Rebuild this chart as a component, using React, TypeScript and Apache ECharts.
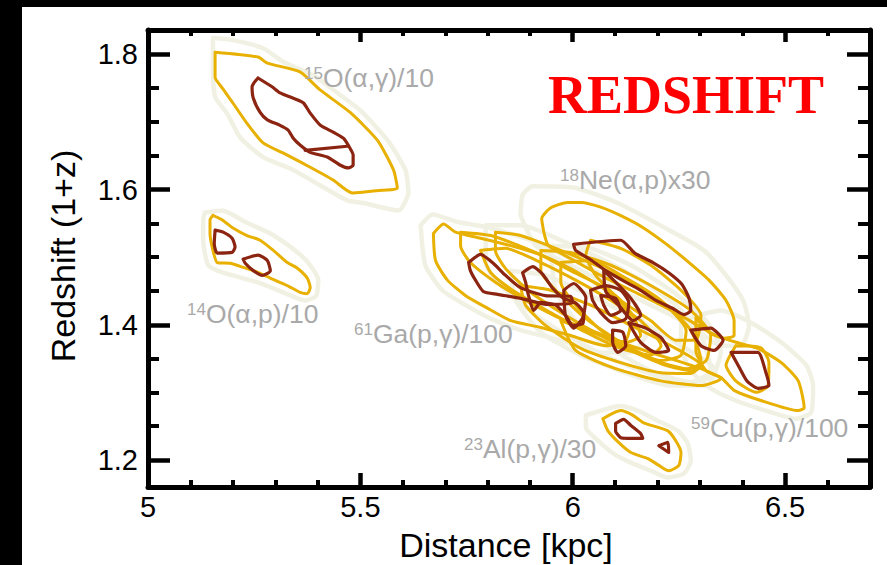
import React, { useEffect, useRef } from 'react';
import * as echarts from 'echarts';

// ---------- axis ticks ----------
const xTickLabels = [5, 5.5, 6, 6.5];
const yTickLabels = [1.2, 1.4, 1.6, 1.8];

// ---------- annotations ----------
const annotationSup = ['15', '14', '61', '18', '23', '59'];
const annotationBody = ['O(α,γ)/10', 'O(α,p)/10', 'Ga(p,γ)/100', 'Ne(α,p)x30', 'Al(p,γ)/30', 'Cu(p,γ)/100'];

// ---------- contour data (distance kpc, redshift 1+z) ----------
const o15Pale = [[5.153,1.824],[5.200,1.821],[5.271,1.809],[5.318,1.789],[5.389,1.769],[5.446,1.743],[5.500,1.717],[5.564,1.673],[5.606,1.629],[5.613,1.596],[5.590,1.569],[5.507,1.580],[5.469,1.584],[5.406,1.606],[5.342,1.629],[5.271,1.648],[5.217,1.677],[5.186,1.713],[5.158,1.737],[5.153,1.781]];
const o15Gold = [[5.158,1.803],[5.259,1.796],[5.281,1.787],[5.358,1.774],[5.406,1.747],[5.476,1.714],[5.540,1.673],[5.578,1.629],[5.587,1.602],[5.554,1.599],[5.481,1.595],[5.436,1.614],[5.382,1.633],[5.328,1.651],[5.271,1.669],[5.233,1.698],[5.200,1.728],[5.175,1.750],[5.158,1.766]];
const o15Red = [[5.259,1.765],[5.292,1.752],[5.311,1.743],[5.342,1.735],[5.366,1.728],[5.382,1.713],[5.406,1.695],[5.436,1.685],[5.460,1.676],[5.472,1.665],[5.483,1.651],[5.483,1.636],[5.472,1.632],[5.453,1.636],[5.422,1.648],[5.382,1.655],[5.358,1.666],[5.342,1.676],[5.330,1.688],[5.311,1.695],[5.281,1.703],[5.264,1.714],[5.248,1.735],[5.245,1.752]];
const o15RedChord = [[5.370,1.658],[5.469,1.664]];

const o14Pale = [[5.134,1.566],[5.175,1.569],[5.229,1.552],[5.288,1.535],[5.340,1.513],[5.377,1.492],[5.401,1.466],[5.396,1.443],[5.370,1.436],[5.318,1.448],[5.257,1.463],[5.177,1.477],[5.142,1.488],[5.130,1.525],[5.130,1.555]];
const o14Gold = [[5.153,1.562],[5.175,1.555],[5.200,1.543],[5.233,1.532],[5.264,1.525],[5.295,1.510],[5.328,1.492],[5.351,1.484],[5.375,1.469],[5.382,1.455],[5.375,1.446],[5.358,1.448],[5.328,1.458],[5.288,1.469],[5.257,1.478],[5.224,1.485],[5.193,1.491],[5.163,1.492],[5.153,1.510],[5.146,1.535],[5.146,1.555]];
const o14RedA = [[5.158,1.540],[5.177,1.537],[5.198,1.528],[5.205,1.515],[5.198,1.507],[5.163,1.506],[5.156,1.520]];
const o14RedB = [[5.224,1.497],[5.259,1.503],[5.281,1.495],[5.288,1.480],[5.269,1.473],[5.248,1.480],[5.229,1.491]];

const al23Pale = [[6.031,1.266],[6.113,1.280],[6.153,1.273],[6.200,1.258],[6.248,1.243],[6.271,1.224],[6.278,1.199],[6.262,1.180],[6.224,1.174],[6.184,1.184],[6.137,1.196],[6.097,1.209],[6.059,1.229],[6.031,1.248]];
const al23Gold = [[6.071,1.261],[6.113,1.273],[6.142,1.266],[6.167,1.255],[6.224,1.243],[6.243,1.228],[6.255,1.211],[6.250,1.192],[6.226,1.184],[6.203,1.192],[6.177,1.202],[6.137,1.211],[6.108,1.226],[6.083,1.243]];
const al23RedA = [[6.101,1.254],[6.120,1.260],[6.137,1.251],[6.160,1.239],[6.165,1.232],[6.130,1.232],[6.113,1.233],[6.101,1.243]];
const al23RedB = [[6.203,1.221],[6.224,1.226],[6.226,1.211]];

const ga61Pale = [[5.642,1.547],[5.670,1.563],[5.729,1.552],[5.807,1.543],[5.901,1.525],[5.995,1.498],[6.090,1.466],[6.149,1.429],[6.172,1.384],[6.137,1.359],[6.066,1.359],[5.972,1.377],[5.877,1.392],[5.807,1.409],[5.748,1.429],[5.693,1.451],[5.653,1.488]];
const ga61Gold = [[5.672,1.535],[5.696,1.549],[5.724,1.537],[5.783,1.528],[5.854,1.517],[5.925,1.503],[5.995,1.480],[6.066,1.458],[6.113,1.436],[6.137,1.406],[6.125,1.377],[6.078,1.369],[5.995,1.384],[5.925,1.396],[5.854,1.406],[5.795,1.426],[5.748,1.443],[5.705,1.466],[5.677,1.495]];
const ga61Red = [[5.755,1.492],[5.783,1.504],[5.811,1.492],[5.842,1.473],[5.877,1.455],[5.936,1.443],[5.995,1.442],[6.000,1.432],[5.943,1.430],[5.877,1.439],[5.823,1.445],[5.790,1.449],[5.771,1.466],[5.759,1.480]];

const ne18Pale = [[5.877,1.562],[5.882,1.592],[5.906,1.605],[6.002,1.603],[6.106,1.580],[6.215,1.544],[6.309,1.510],[6.361,1.473],[6.401,1.436],[6.415,1.399],[6.396,1.369],[6.349,1.369],[6.278,1.399],[6.184,1.429],[6.090,1.458],[5.995,1.488],[5.913,1.517]];
const ne18Gold = [[5.932,1.537],[5.927,1.557],[5.946,1.572],[5.988,1.581],[6.019,1.581],[6.066,1.574],[6.118,1.560],[6.165,1.544],[6.219,1.520],[6.274,1.492],[6.321,1.466],[6.361,1.436],[6.380,1.406],[6.380,1.384],[6.356,1.380],[6.314,1.392],[6.267,1.409],[6.208,1.429],[6.137,1.451],[6.066,1.473],[5.995,1.498],[5.943,1.517]];
const ne18Red = [[6.002,1.519],[6.113,1.525],[6.146,1.506],[6.189,1.492],[6.226,1.477],[6.257,1.460],[6.274,1.439],[6.278,1.421],[6.262,1.415],[6.236,1.424],[6.196,1.436],[6.160,1.451],[6.125,1.463],[6.078,1.480],[6.038,1.498],[6.007,1.510]];

const cu59Pale = [[6.255,1.406],[6.349,1.421],[6.420,1.403],[6.491,1.374],[6.550,1.340],[6.566,1.310],[6.561,1.270],[6.526,1.261],[6.455,1.273],[6.384,1.288],[6.325,1.306],[6.278,1.332],[6.255,1.369]];
const cu59Gold = [[6.290,1.410],[6.325,1.387],[6.396,1.372],[6.436,1.365],[6.491,1.344],[6.531,1.317],[6.545,1.277],[6.531,1.273],[6.443,1.288],[6.380,1.303],[6.349,1.322],[6.314,1.332],[6.290,1.362]];
const cu59GoldInner = [[6.384,1.369],[6.443,1.366],[6.462,1.344],[6.460,1.310],[6.432,1.300],[6.384,1.317],[6.361,1.340]];
const cu59Red = [[6.373,1.359],[6.436,1.359],[6.455,1.329],[6.462,1.310],[6.436,1.306],[6.410,1.317],[6.392,1.337]];
const cu59RedZig = [[6.278,1.392],[6.325,1.395],[6.354,1.377],[6.333,1.362],[6.302,1.369]];

const clusterPaleA = [[5.795,1.547],[5.877,1.547],[5.972,1.525],[6.066,1.498],[6.160,1.466],[6.243,1.429],[6.302,1.384],[6.325,1.332],[6.278,1.315],[6.196,1.325],[6.101,1.347],[6.007,1.377],[5.913,1.414],[5.842,1.451],[5.795,1.492]];
const clusterPaleB = [[5.948,1.517],[6.042,1.513],[6.137,1.488],[6.231,1.451],[6.314,1.406],[6.349,1.362],[6.330,1.325],[6.278,1.315],[6.184,1.332],[6.090,1.365],[6.007,1.406],[5.960,1.451]];
const clusterPaleC = [[5.854,1.480],[5.936,1.473],[6.042,1.443],[6.149,1.409],[6.255,1.369],[6.337,1.332],[6.314,1.310],[6.231,1.310],[6.125,1.329],[6.019,1.355],[5.925,1.389],[5.866,1.436]];

const clusterGoldA = [[5.736,1.537],[5.807,1.532],[5.901,1.510],[5.995,1.483],[6.078,1.451],[6.137,1.418],[6.160,1.384],[6.125,1.374],[6.054,1.389],[5.972,1.409],[5.889,1.436],[5.818,1.463],[5.759,1.492],[5.736,1.517]];
const clusterGoldB = [[5.783,1.510],[5.842,1.513],[5.925,1.492],[6.007,1.466],[6.090,1.436],[6.160,1.406],[6.208,1.369],[6.184,1.355],[6.113,1.365],[6.031,1.389],[5.948,1.418],[5.866,1.448],[5.807,1.477]];
const clusterGoldC = [[5.818,1.537],[5.877,1.532],[5.960,1.513],[6.054,1.488],[6.149,1.458],[6.219,1.429],[6.267,1.392],[6.255,1.355],[6.208,1.347],[6.137,1.362],[6.066,1.384],[5.983,1.414],[5.901,1.448],[5.842,1.483],[5.818,1.510]];
const clusterGoldD = [[5.925,1.510],[5.995,1.507],[6.090,1.488],[6.184,1.458],[6.278,1.421],[6.325,1.384],[6.314,1.347],[6.267,1.335],[6.196,1.347],[6.113,1.374],[6.031,1.409],[5.960,1.451],[5.925,1.480]];
const clusterGoldE = [[5.972,1.492],[6.042,1.495],[6.125,1.469],[6.208,1.436],[6.278,1.392],[6.302,1.347],[6.278,1.332],[6.219,1.340],[6.137,1.362],[6.066,1.392],[6.007,1.429],[5.972,1.463]];
const clusterGoldF = [[5.877,1.458],[5.948,1.451],[6.042,1.429],[6.137,1.399],[6.231,1.369],[6.302,1.340],[6.278,1.328],[6.208,1.329],[6.113,1.344],[6.019,1.365],[5.936,1.399],[5.889,1.429]];
const clusterGoldG = [[6.042,1.525],[6.113,1.513],[6.184,1.488],[6.255,1.451],[6.302,1.414],[6.290,1.377],[6.243,1.377],[6.184,1.406],[6.113,1.436],[6.054,1.473],[6.031,1.503]];
const clusterGoldH = [[5.972,1.406],[6.066,1.384],[6.184,1.359],[6.302,1.335],[6.349,1.320],[6.302,1.310],[6.208,1.317],[6.101,1.335],[6.007,1.362]];

const clusterRedZig = [[5.882,1.477],[5.906,1.486],[5.929,1.475],[5.953,1.454],[5.979,1.439],[6.007,1.432],[6.026,1.417],[6.024,1.402],[6.000,1.399],[5.983,1.414],[5.960,1.429],[5.925,1.433],[5.908,1.421],[5.896,1.443],[5.889,1.463]];
const coreRedA = [[6.042,1.451],[6.078,1.458],[6.113,1.451],[6.132,1.433],[6.125,1.409],[6.094,1.403],[6.066,1.418],[6.047,1.436]];
const coreRedB = [[6.066,1.443],[6.101,1.439],[6.113,1.421],[6.090,1.414],[6.073,1.429]];
const coreRedC = [[6.073,1.480],[6.101,1.463],[6.137,1.439],[6.160,1.414],[6.142,1.406],[6.108,1.429],[6.078,1.449]];
const coreRedD = [[6.094,1.392],[6.118,1.389],[6.125,1.369],[6.106,1.359],[6.094,1.374]];
const coreRedE = [[6.132,1.403],[6.172,1.395],[6.208,1.381],[6.226,1.362],[6.196,1.359],[6.160,1.374]];
const coreRedF = [[5.979,1.451],[6.002,1.461],[6.031,1.440],[6.024,1.411],[6.002,1.395],[5.983,1.414]];

type Level = 'pale' | 'gold' | 'red';
const contours: { pts: number[][]; level: Level; closed: boolean }[] = [
  { pts: o15Pale, level: 'pale', closed: true },
  { pts: o14Pale, level: 'pale', closed: true },
  { pts: al23Pale, level: 'pale', closed: true },
  { pts: ga61Pale, level: 'pale', closed: true },
  { pts: ne18Pale, level: 'pale', closed: true },
  { pts: cu59Pale, level: 'pale', closed: true },
  { pts: clusterPaleA, level: 'pale', closed: true },
  { pts: clusterPaleB, level: 'pale', closed: true },
  { pts: clusterPaleC, level: 'pale', closed: true },
  { pts: o15Gold, level: 'gold', closed: true },
  { pts: o14Gold, level: 'gold', closed: true },
  { pts: al23Gold, level: 'gold', closed: true },
  { pts: ga61Gold, level: 'gold', closed: true },
  { pts: ne18Gold, level: 'gold', closed: true },
  { pts: cu59Gold, level: 'gold', closed: true },
  { pts: cu59GoldInner, level: 'gold', closed: true },
  { pts: clusterGoldA, level: 'gold', closed: true },
  { pts: clusterGoldB, level: 'gold', closed: true },
  { pts: clusterGoldC, level: 'gold', closed: true },
  { pts: clusterGoldD, level: 'gold', closed: true },
  { pts: clusterGoldE, level: 'gold', closed: true },
  { pts: clusterGoldF, level: 'gold', closed: true },
  { pts: clusterGoldG, level: 'gold', closed: true },
  { pts: clusterGoldH, level: 'gold', closed: true },
  { pts: o15Red, level: 'red', closed: true },
  { pts: o15RedChord, level: 'red', closed: false },
  { pts: o14RedA, level: 'red', closed: true },
  { pts: o14RedB, level: 'red', closed: true },
  { pts: al23RedA, level: 'red', closed: true },
  { pts: al23RedB, level: 'red', closed: true },
  { pts: ga61Red, level: 'red', closed: true },
  { pts: ne18Red, level: 'red', closed: true },
  { pts: cu59Red, level: 'red', closed: true },
  { pts: cu59RedZig, level: 'red', closed: true },
  { pts: clusterRedZig, level: 'red', closed: true },
  { pts: coreRedA, level: 'red', closed: true },
  { pts: coreRedB, level: 'red', closed: true },
  { pts: coreRedC, level: 'red', closed: true },
  { pts: coreRedD, level: 'red', closed: true },
  { pts: coreRedE, level: 'red', closed: true },
  { pts: coreRedF, level: 'red', closed: true },
];

const levelStyle: Record<Level, { color: string; width: number; z: number }> = {
  pale: { color: '#f1f1e3', width: 4.5, z: 2 },
  gold: { color: '#e8b000', width: 3, z: 3 },
  red: { color: '#8b2410', width: 3.2, z: 4 },
};

const SANS = '"Liberation Sans", Arial, Helvetica, sans-serif';
const GRAY = '#a9a9a9';

function near(list: number[], v: number) {
  return list.some((t) => Math.abs(t - v) < 1e-6);
}

export default function App() {
  const ref = useRef<HTMLDivElement>(null);
  useEffect(() => {
    if (!ref.current) return;
    const chart = echarts.init(ref.current, undefined, { renderer: 'svg' });

    const annPos = [
      [304, 78],
      [187, 314],
      [354, 334],
      [560, 180],
      [464, 449],
      [691, 428],
    ];

    const axisCommon = (pos: string) => ({
      type: 'value',
      position: pos,
      axisLine: { show: true, onZero: false, lineStyle: { color: '#000', width: 5 } },
      splitLine: { show: false },
    });

    const tickStyle = { color: '#000', width: 4.5 };
    const minorStyle = { color: '#000', width: 4 };

    const option: any = {
      animation: false,
      backgroundColor: 'transparent',
      grid: { left: 148, top: 30, right: 17, bottom: 78, containLabel: false },
      xAxis: [
        {
          ...axisCommon('bottom'),
          min: 5,
          max: 6.7,
          interval: 0.5,
          axisTick: { show: true, inside: true, length: 14, lineStyle: tickStyle },
          minorTick: { show: true, splitNumber: 5, length: 7, lineStyle: minorStyle },
          axisLabel: {
            show: true,
            margin: 5,
            fontSize: 29,
            color: '#000',
            fontFamily: SANS,
            showMaxLabel: false,
            formatter: (v: number) => (near(xTickLabels, v) ? String(v) : ''),
          },
        },
        {
          ...axisCommon('top'),
          min: 5,
          max: 6.7,
          interval: 0.5,
          axisTick: { show: true, inside: true, length: 12, lineStyle: tickStyle },
          minorTick: { show: true, splitNumber: 5, length: 6, lineStyle: minorStyle },
          axisLabel: { show: false },
        },
      ],
      yAxis: [
        {
          ...axisCommon('left'),
          min: 1.16,
          max: 1.836,
          splitNumber: 3,
          axisTick: { show: true, inside: true, length: 22, lineStyle: tickStyle },
          minorTick: { show: true, splitNumber: 4, length: 11, lineStyle: minorStyle },
          axisLabel: {
            show: true,
            margin: 10,
            fontSize: 29,
            color: '#000',
            fontFamily: SANS,
            showMinLabel: false,
            showMaxLabel: false,
            formatter: (v: number) => (near(yTickLabels, v) ? v.toFixed(1) : ''),
          },
        },
        {
          ...axisCommon('right'),
          min: 1.16,
          max: 1.836,
          splitNumber: 3,
          axisTick: { show: true, inside: true, length: 23, lineStyle: tickStyle },
          minorTick: { show: true, splitNumber: 4, length: 12, lineStyle: minorStyle },
          axisLabel: { show: false },
        },
      ],
      series: contours.map((c) => {
        const st = levelStyle[c.level];
        return {
          type: 'line',
          xAxisIndex: 0,
          yAxisIndex: 0,
          data: c.closed ? [...c.pts, c.pts[0]] : c.pts,
          symbol: 'none',
          showSymbol: false,
          smooth: 0.2,
          silent: true,
          z: st.z,
          lineStyle: { color: st.color, width: st.width, join: 'round', cap: 'round' },
        };
      }),
      graphic: [
        ...annotationBody.map((body, i) => ({
          type: 'text',
          x: annPos[i][0],
          y: annPos[i][1],
          silent: true,
          z: 10,
          style: {
            text: `{s|${annotationSup[i]}}{m|${body}}`,
            rich: {
              s: { fontSize: 17, fill: GRAY, fontFamily: SANS, verticalAlign: 'top' },
              m: { fontSize: 26.5, fill: GRAY, fontFamily: SANS },
            },
            align: 'left',
            verticalAlign: 'middle',
            textAlign: 'left',
            textVerticalAlign: 'middle',
          },
        })),
        {
          type: 'text',
          x: 548,
          y: 95,
          z: 10,
          silent: true,
          style: {
            text: 'REDSHIFT',
            fill: '#ff0000',
            fontSize: 54,
            fontWeight: 'bold',
            fontFamily: '"Liberation Serif", "Times New Roman", serif',
            align: 'left',
            verticalAlign: 'middle',
            textAlign: 'left',
            textVerticalAlign: 'middle',
          },
        },
        {
          type: 'text',
          x: 506,
          y: 545,
          z: 10,
          silent: true,
          style: {
            text: 'Distance [kpc]',
            fill: '#000',
            fontSize: 34,
            fontFamily: SANS,
            align: 'center',
            verticalAlign: 'middle',
            textAlign: 'center',
            textVerticalAlign: 'middle',
          },
        },
        {
          type: 'text',
          x: 63,
          y: 256,
          rotation: Math.PI / 2,
          z: 10,
          silent: true,
          style: {
            text: 'Redshift (1+z)',
            fill: '#000',
            fontSize: 34,
            fontFamily: SANS,
            align: 'center',
            verticalAlign: 'middle',
            textAlign: 'center',
            textVerticalAlign: 'middle',
          },
        },
      ],
    };

    chart.setOption(option);
    return () => chart.dispose();
  }, []);

  return (
    <div style={{ position: 'fixed', left: 0, top: 0, width: 887, height: 565, background: '#000', overflow: 'hidden' }}>
      <div style={{ position: 'absolute', left: 22, top: 7, width: 865, height: 558, background: '#fff' }} />
      <div ref={ref} style={{ position: 'absolute', left: 0, top: 0, width: 887, height: 565 }} />
    </div>
  );
}
